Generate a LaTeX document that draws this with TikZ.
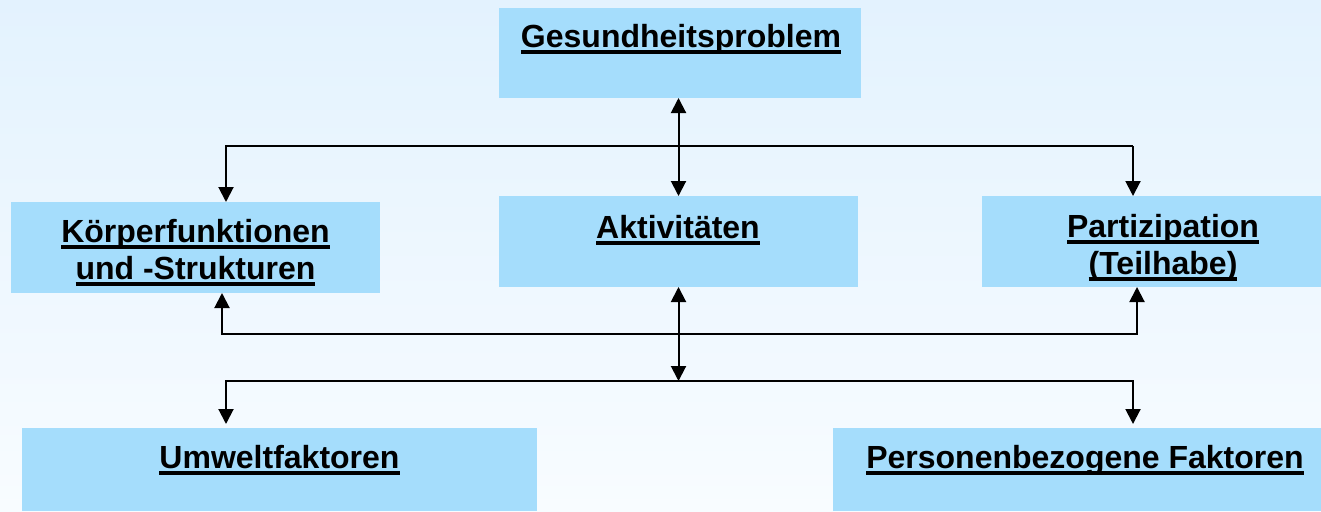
\documentclass[tikz,border=0pt]{standalone}
\usepackage{fontspec}
\setmainfont{Liberation Sans}
\usetikzlibrary{arrows.meta}
\definecolor{bgtop}{RGB}{227,242,254}
\definecolor{bgbot}{RGB}{248,252,255}
\definecolor{boxblue}{RGB}{165,221,252}
\newcommand\ulx[1]{\setbox0\hbox{#1}\rlap{\vrule width\wd0 height -2.5pt depth 6.5pt}\box0}
\newcommand\ctrline[1]{\hbox to 0pt{\hss\ulx{#1}\hss}}
\begin{document}
\begin{tikzpicture}[x=1pt,y=-1pt,
  box/.style={draw=none, fill=boxblue, inner sep=0pt, outer sep=0pt, anchor=north west},
  lbl/.style={inner sep=0pt, anchor=base, font=\fontsize{32}{37}\selectfont\bfseries},
  conn/.style={line width=2pt, black},
  arr/.style={-{Triangle[width=15pt,length=15pt]}},
  dbl/.style={{Triangle[width=15pt,length=15pt]}-{Triangle[width=15pt,length=15pt]}}]
\useasboundingbox (0,0) rectangle (1321,511);
\fill[top color=bgtop, bottom color=bgbot] (0,0) rectangle (1321,511);
% boxes
\node[box, minimum width=362pt, minimum height=90pt] (gp) at (499,8) {};
\node[box, minimum width=369pt, minimum height=91pt] (kf) at (11,202) {};
\node[box, minimum width=359pt, minimum height=91pt] (akt) at (499,196) {};
\node[box, minimum width=339pt, minimum height=91pt] (pa) at (982,196) {};
\node[box, minimum width=515pt, minimum height=83pt] (uw) at (22,428) {};
\node[box, minimum width=488pt, minimum height=83pt] (pf) at (833,428) {};
% labels
\node[lbl] (gpt) at (681,48) {\ctrline{Gesundheitsproblem}};
\node[lbl] (kft) at (195.5,242) {\vtop{\ctrline{Körperfunktionen}\ctrline{und -Strukturen}}};
\node[lbl] (aktt) at (678,238) {\ctrline{Aktivitäten}};
\node[lbl] (pat) at (1163,237) {\vtop{\ctrline{Partizipation}\ctrline{(Teilhabe)}}};
\node[lbl] (uwt) at (279.5,468) {\ctrline{Umweltfaktoren}};
\node[lbl] (pft) at (1085,468) {\ctrline{Personenbezogene Faktoren}};
% connector coordinates
\coordinate (h1l) at (226,146);
\coordinate (h1r) at (1133,146);
\coordinate (h2l) at (222,334);
\coordinate (h2r) at (1137,334);
\coordinate (h3l) at (226,381);
\coordinate (h3r) at (1133,381);
% top bracket
\draw[conn,arr] (h1r) -- (h1l) -- (h1l |- kf.north);
\draw[conn,arr] (h1r) -- (h1r |- pa.north);
\draw[conn,dbl] (akt.north |- gp.south) -- (akt.north);
% middle bracket
\draw[conn,arr] (h2r) -- (h2l) -- (h2l |- kf.south);
\draw[conn,arr] (h2l) -- (h2r) -- (h2r |- pa.south);
\draw[conn,dbl] (akt.south) -- (akt.south |- h3l);
% bottom bracket
\draw[conn,arr] (h3r) -- (h3l) -- ([yshift=4pt]uw.north -| h3l);
\draw[conn,arr] (h3l) -- (h3r) -- ([yshift=4pt]pf.north -| h3r);
\end{tikzpicture}
\end{document}
